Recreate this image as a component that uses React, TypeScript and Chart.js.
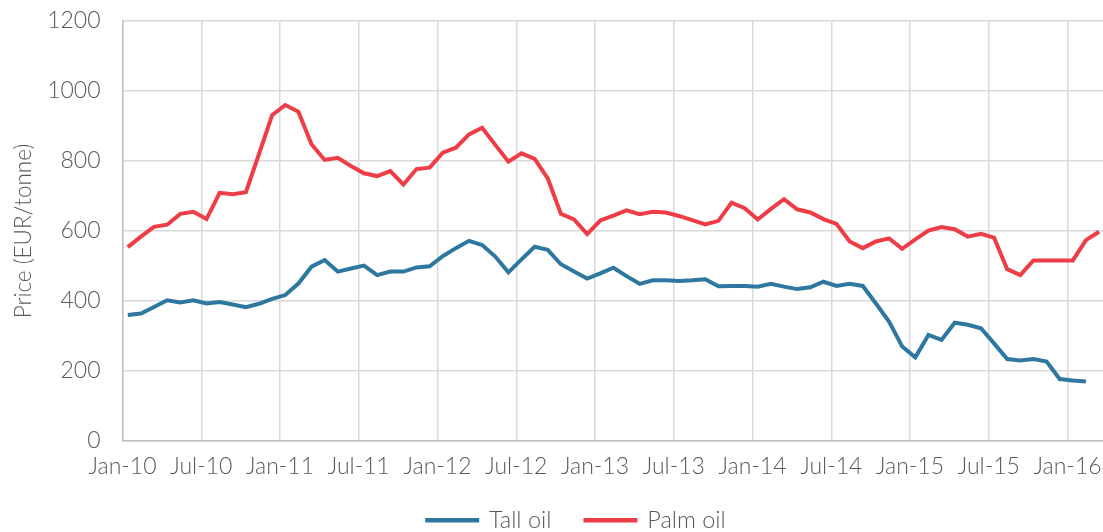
import React, { useEffect, useRef } from "react";
import { Chart, registerables } from "chart.js";

Chart.register(...registerables);

// Month index 0 = Jan-10
const tickLabels = [
  "Jan-10", "Jul-10", "Jan-11", "Jul-11", "Jan-12", "Jul-12", "Jan-13",
  "Jul-13", "Jan-14", "Jul-14", "Jan-15", "Jul-15", "Jan-16",
];

const tallOil = [
  360, 364, 383, 402, 396, 402, 393, 397, 390, 382, 392, 406,
  417, 450, 498, 517, 484, 493, 501, 474, 484, 484, 496, 499,
  528, 551, 572, 560, 527, 482, 519, 555, 546, 505, 484, 464,
  479, 495, 471, 449, 459, 459, 457, 459, 462, 442, 443, 443,
  441, 449, 441, 434, 439, 455, 443, 449, 443, 393, 341, 270,
  239, 303, 289, 338, 332, 322, 279, 234, 230, 234, 227, 177,
  173, 170,
];

const palmOil = [
  554, 584, 612, 618, 649, 655, 634, 709, 705, 711, 820, 931,
  960, 941, 848, 803, 809, 786, 765, 757, 771, 733, 777, 781,
  824, 838, 876, 895, 846, 798, 822, 806, 750, 649, 633, 591,
  630, 644, 659, 648, 655, 653, 643, 631, 619, 629, 681, 665,
  633, 663, 691, 662, 653, 634, 620, 570, 551, 570, 579, 549,
  576, 601, 611, 605, 584, 592, 581, 491, 474, 516, 516, 516,
  516, 574, 598,
];

const DAY_OFFSET = 0.4; // observations sit mid-month
const FONT = "Lato";
const TEXT = "#595959";
const TICK_FONT = { family: FONT, size: 23, weight: "300" };
const LEGEND_PAD = 34;

const toPoints = (arr: number[]) => arr.map((v, i) => ({ x: i + DAY_OFFSET, y: v }));

const legendShift = {
  id: "legendShift",
  afterLayout(chart: any) {
    if (chart.legend) {
      chart.legend.left += 25;
      chart.legend.right += 25;
    }
  },
};

export default function App() {
  const ref = useRef<HTMLCanvasElement | null>(null);
  useEffect(() => {
    if (!ref.current) return;
    const chart = new Chart(ref.current, {
      type: "line",
      data: {
        datasets: [
          {
            label: "Tall oil",
            data: toPoints(tallOil),
            borderColor: "#2E78A0",
            backgroundColor: "#2E78A0",
            borderWidth: 4,
            pointRadius: 0,
            tension: 0,
          },
          {
            label: "Palm oil",
            data: toPoints(palmOil),
            borderColor: "#EF3D47",
            backgroundColor: "#EF3D47",
            borderWidth: 4,
            pointRadius: 0,
            tension: 0,
          },
        ],
      },
      plugins: [legendShift],
      options: {
        animation: false,
        responsive: false,
        maintainAspectRatio: false,
        layout: { padding: { top: 21, right: 0, left: 0, bottom: 0 } },
        plugins: {
          tooltip: { enabled: false },
          legend: {
            position: "bottom",
            labels: {
              boxWidth: 50,
              boxHeight: 0.5,
              padding: LEGEND_PAD,
              color: TEXT,
              font: { family: FONT, size: 23.5, weight: "300" },
            },
          },
        },
        scales: {
          x: {
            type: "linear",
            min: 0,
            max: 74.7,
            afterBuildTicks: (scale: any) => {
              scale.ticks = tickLabels.map((_, i) => ({ value: i * 6 }));
            },
            afterFit: (scale: any) => {
              scale.height = 33.5;
              scale.paddingLeft = 0;
              scale.paddingRight = 0;
            },
            ticks: {
              autoSkip: false,
              maxRotation: 0,
              padding: 12,
              color: TEXT,
              font: TICK_FONT,
              callback: (v: any) => tickLabels[Math.round(Number(v) / 6)] ?? "",
            },
            grid: { color: "#D9D9D9", lineWidth: 1.5, drawTicks: false },
            border: { color: "#BFBFBF", width: 1.5 },
          },
          y: {
            min: 0,
            max: 1200,
            afterFit: (scale: any) => {
              scale.width = 122.5;
              scale.paddingTop = 0;
              scale.paddingBottom = 0;
            },
            ticks: {
              stepSize: 200,
              padding: 22,
              color: TEXT,
              font: TICK_FONT,
              callback: (v: any) => String(v),
            },
            grid: { color: "#D9D9D9", lineWidth: 1.5, drawTicks: false },
            border: { color: "#BFBFBF", width: 1.5 },
            title: {
              display: true,
              text: "Price (EUR/tonne)",
              color: TEXT,
              font: { family: FONT, size: 22.5, weight: "300" },
              padding: { top: 10, bottom: 2 },
            },
          },
        },
      },
    } as any);
    return () => chart.destroy();
  }, []);
  return (
    <div style={{ position: "fixed", left: 0, top: 0, width: 1103, height: 542, background: "#fff" }}>
      <canvas ref={ref} width={1103} height={542} style={{ width: 1103, height: 542 }} />
    </div>
  );
}
